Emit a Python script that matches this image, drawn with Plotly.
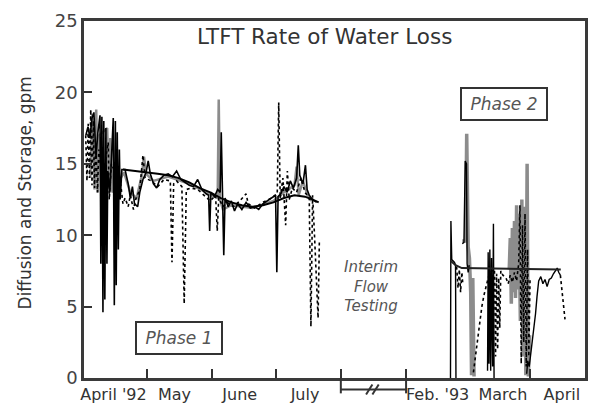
import plotly.graph_objects as go
from datetime import datetime, timedelta

# ---------------- data (days since phase start, gpm) ----------------
P1_START = datetime(1992, 4, 1)
P2_START = datetime(1993, 2, 1)

# Phase 1 - daily solid series
p1_solid_days = [0.9, 1.9, 2.8, 3.8, 4.7, 5.7, 6.6, 7.6, 8.0, 8.5, 9.0, 9.4, 9.9, 10.4, 10.9, 11.3,
                 12.3, 13.2, 13.9, 14.4, 14.9, 15.3, 15.8, 16.3, 16.8, 17.2, 18.0,
                 19.5, 21, 22, 23, 24, 25.5, 26.5, 28, 29.5, 30.5, 31.5, 33, 34.5, 36, 38, 40, 42, 44,
                 46, 48, 50, 52, 54, 56, 58, 59.2, 59.7, 60.3, 62, 63.5, 64.7, 65.2, 65.7, 66.4, 67.0,
                 68.5, 70, 71.5, 73, 75, 77, 79, 81, 83, 85, 87, 89, 91, 91.6, 92.2, 93.5, 95, 96.5,
                 98, 99.5, 101, 101.8, 102.5, 104, 105.2, 106, 107, 108.5, 110.5]
p1_solid_vals = [17.0, 17.6, 16.8, 18.2, 18.6, 15.5, 17.2, 18.4, 8.0, 18.3, 4.6, 18.0, 5.5, 17.5, 8.0, 14.5,
                 13.0, 15.5, 18.2, 5.1, 18.0, 6.5, 17.2, 9.0, 16.0, 12.5, 14.6,
                 14.6, 13.6, 12.6, 13.4, 12.2, 12.0, 13.0, 13.9, 14.4, 15.2, 14.3, 13.6, 13.3, 13.9, 14.2,
                 14.3, 14.1, 14.5, 13.9, 13.7, 13.5, 13.4, 13.9, 13.2, 12.9, 12.8, 10.3, 13.0, 12.7, 13.2,
                 13.0, 17.2, 12.8, 8.6, 12.6, 12.0, 12.4, 11.7, 12.2, 11.8, 12.3, 11.9, 12.0, 11.8, 12.2,
                 12.4, 12.6, 12.8, 7.4, 12.7, 12.9, 13.4, 13.0, 13.8, 13.3, 14.0, 16.3, 14.2, 13.6, 14.9,
                 13.2, 12.8, 12.5, 12.3]

# Phase 1 - dotted series
p1_dot_days = [0.8, 1.4, 2.0, 2.6, 3.2, 3.8, 4.4, 5.0, 5.6, 6.4, 7.0, 8.8, 11.5, 12.0, 13.0, 17.5,
               18.5, 19.5, 21.0, 22.0, 23.5, 24.5, 26.5, 28.0, 29.0, 32.0, 35.0, 38.0, 41.0, 41.8,
               42.6, 44.0, 46.5, 47.6, 48.6, 51.0, 54.0, 57.0, 60.0, 62.5, 63.3, 64.0, 66.0, 68.0,
               71.0, 74.0, 77.0, 78.0, 81.0, 85.0, 89.0, 91.8, 92.5, 93.2, 94.5, 95.8, 96.6, 97.5,
               99.0, 101.0, 103.0, 105.0, 107.0, 107.8, 108.6, 109.5, 110.5, 111.2, 111.8]
p1_dot_vals = [17.0, 13.8, 17.8, 14.0, 18.8, 13.5, 18.0, 13.3, 16.5, 13.0, 16.0, 13.8, 16.5, 12.5, 15.0, 13.5,
               12.2, 12.6, 12.0, 12.8, 11.8, 12.5, 13.2, 15.6, 14.0, 13.8, 13.4, 13.9, 13.8, 8.1,
               13.6, 13.8, 13.4, 5.2, 13.2, 13.3, 13.2, 12.8, 12.4, 12.8, 10.3, 12.6, 12.0, 12.3,
               12.0, 12.4, 12.9, 12.2, 11.9, 12.3, 12.6, 12.9, 19.3, 12.6, 14.0, 10.7, 14.5, 12.5,
               13.3, 13.0, 14.0, 13.0, 12.6, 3.6, 12.8, 10.0, 7.1, 4.2, 9.5]

# Phase 1 - grey series
p1_grey_days = [3.0, 4.0, 5.0, 5.8, 6.5, 7.3, 11.0, 11.8, 12.5, 13.5, 19.0, 22.0, 25.0, 27.5, 28.5,
                29.5, 33.0, 40.0, 50.0, 60.0, 63.5, 64.0, 64.6, 66.0, 70.0, 80.0, 90.0, 95.0, 100.0,
                101.0, 102.0, 104.0, 106.0, 108.0]
p1_grey_vals = [14.0, 18.5, 13.2, 18.8, 13.0, 17.0, 17.5, 13.2, 16.8, 13.0, 14.4, 13.0, 12.6, 14.2, 15.5,
                14.3, 13.8, 14.1, 13.6, 12.9, 12.6, 19.5, 12.5, 11.8, 12.1, 11.9, 12.4, 13.0, 13.5,
                14.8, 12.8, 13.8, 12.9, 12.4]

# Phase 1 - trend
p1_trend_days = [18.5, 25, 30, 35, 40, 45, 50, 55, 60, 65, 70, 75, 80, 85, 90, 95, 100, 105, 110, 111.5]
p1_trend_vals = [14.6, 14.5, 14.4, 14.3, 14.2, 14.0, 13.7, 13.3, 13.0, 12.6, 12.3, 12.1, 12.0, 12.1,
                 12.3, 12.6, 12.8, 12.7, 12.4, 12.3]

# Phase 2 - solid series (None = gap)
p2_solid_days = [21.1, 21.3, 21.7, 23.0, 23.5, 23.7, None,
                 26.7, 27.5, 28.1, 28.7, 29.0, 29.5, 30.0, None,
                 38.7, 39.0, 39.4, 39.8, 40.2, 40.6, 41.1, 41.5, 41.8, None,
                 57.3, 57.8, 58.5, 59.5, 60.5, 61.5, 62.2, 63.0, 64.0, 65.0, 66.0, 67.0, 68.0, 69.0,
                 70.0, 71.0, 71.8, 72.5, 73.3]
p2_solid_vals = [0.0, 11.0, 8.3, 8.1, 7.9, 0.0, None,
                 9.4, 9.5, 15.2, 15.0, 8.0, 7.4, 7.9, None,
                 0.5, 8.8, 1.0, 9.0, 0.5, 8.4, 0.8, 10.8, 0.0, None,
                 0.3, 1.2, 0.8, 2.0, 3.3, 4.5, 5.7, 6.8, 7.1, 6.6, 6.9, 6.4, 6.9, 7.0,
                 7.3, 7.5, 7.7, 7.4, 7.2]

# Phase 2 - dotted series
p2_dot_days = [24.0, 24.7, 25.3, 25.9, 26.5, 27.0, None,
               32.0, 33.0, 34.0, 35.0, 36.0, 37.0, 38.0, 39.0, 40.0, 42.0, 42.5, 43.0, 43.5, 44.0,
               44.5, 45.0, 46.0, 47.5, 48.5, 49.5, 50.5, 51.5, 52.5, 53.5, 54.1, 54.7, 55.3, 55.9,
               56.5, 57.1, 57.7, 58.3, 58.9, None,
               73.3, 74.0, 74.7, 75.5]
p2_dot_vals = [7.8, 6.3, 7.6, 6.0, 7.4, 6.5, None,
               0.4, 1.5, 2.8, 4.0, 5.0, 5.8, 6.5, 7.0, 7.4, 7.6, 1.5, 7.3, 2.0, 7.0,
               3.5, 7.5, 7.2, 7.0, 6.6, 7.2, 6.7, 7.4, 6.8, 8.0, 12.1, 1.0, 10.7, 2.5,
               11.5, 0.8, 9.0, 1.5, 7.0, None,
               7.2, 6.2, 5.0, 4.1]

# Phase 2 - grey series
p2_grey_days = [26.7, 28.3, 28.8, 29.5, 30.1, 30.7, 31.1, 31.7, 32.3, None,
                49.0, 49.5, 50.0, 50.5, 51.0, 51.5, 52.0, 52.5, 53.0, 53.5, 54.3, 55.0, 55.7, 56.3,
                56.9, 57.5, 58.1, 58.7]
p2_grey_vals = [9.6, 9.6, 17.1, 9.2, 8.4, 6.0, 0.2, 7.0, 0.1, None,
                7.6, 9.8, 5.2, 10.5, 6.0, 11.0, 5.6, 12.1, 6.2, 11.5, 4.0, 12.5, 1.5, 12.0,
                0.2, 15.0, 0.1, 3.0]

# Phase 2 - trend
p2_trend_days = [21.3, 23.5, 26.5, 73.5]
p2_trend_vals = [8.2, 7.9, 7.7, 7.6]

# axis labels
month_label_dates = ["1992-04-15", "1992-05-14", "1992-06-14", "1992-07-15",
                     "1993-02-16", "1993-03-19", "1993-04-16"]
month_labels = ["April '92", "May", "June", "July", "Feb. '93", "March", "April"]
tick_mark_dates = ["1992-05-01", "1992-06-01", "1992-07-01", "1993-01-01", "1993-02-01", "1993-04-01"]
y_ticks = [0, 5, 10, 15, 20, 25]


def to_dates(base, days):
    return [None if d is None else base + timedelta(days=d) for d in days]


FONT = "DejaVu Sans"
TXT = "#333333"
GREY = "#8c8c8c"

fig = go.Figure()

series = [
    (P1_START, p1_grey_days, p1_grey_vals, dict(color=GREY, width=2.5)),
    (P2_START, p2_grey_days, p2_grey_vals, dict(color=GREY, width=3.5)),
    (P1_START, p1_dot_days, p1_dot_vals, dict(color="black", width=1.6, dash="dot")),
    (P2_START, p2_dot_days, p2_dot_vals, dict(color="black", width=1.6, dash="dot")),
    (P1_START, p1_solid_days, p1_solid_vals, dict(color="black", width=1.6)),
    (P2_START, p2_solid_days, p2_solid_vals, dict(color="black", width=1.4)),
    (P1_START, p1_trend_days, p1_trend_vals, dict(color="black", width=2)),
    (P2_START, p2_trend_days, p2_trend_vals, dict(color="#222222", width=2)),
]
for base, d, v, line in series:
    fig.add_trace(go.Scatter(x=to_dates(base, d), y=v, mode="lines", line=line,
                             connectgaps=False, showlegend=False, hoverinfo="skip"))

fig.update_layout(
    width=591, height=407,
    margin=dict(l=84, r=3, t=21, b=25),
    paper_bgcolor="white", plot_bgcolor="white",
    font=dict(family=FONT, color=TXT),
    showlegend=False,
)

fig.update_xaxes(
    type="date",
    range=["1992-04-01", "1993-04-27"],
    rangebreaks=[dict(bounds=["1992-08-01", "1993-01-01"])],
    tickmode="array", tickvals=month_label_dates, ticktext=month_labels,
    ticks="", tickfont=dict(size=16, color=TXT, family=FONT),
    minor=dict(tickmode="array", tickvals=tick_mark_dates, ticks="inside",
               ticklen=9, tickwidth=2, tickcolor="#333333", showgrid=False),
    showgrid=False, zeroline=False,
    showline=True, mirror=True, linecolor="#3a3a3a", linewidth=2.5,
)
fig.update_yaxes(
    range=[0, 25], tickmode="array", tickvals=y_ticks,
    ticks="inside", ticklen=8, tickwidth=2, tickcolor="#333333",
    tickfont=dict(size=18, color="#444444", family=FONT),
    showgrid=False, zeroline=False,
    showline=True, mirror=True, linecolor="#3a3a3a", linewidth=2.5,
)

# title and y label
fig.add_annotation(text="LTFT Rate of Water Loss", xref="paper", yref="paper",
                   x=0.480, y=0.9557, xanchor="center", yanchor="middle", showarrow=False,
                   font=dict(size=21.5, color=TXT, family=FONT))
fig.add_annotation(text="Diffusion and Storage, gpm", xref="paper", yref="paper",
                   x=-0.117, y=0.518, xanchor="center", yanchor="middle",
                   showarrow=False, textangle=-90,
                   font=dict(size=17, color=TXT, family=FONT))

# phase boxes
for txt, px, py in [("Phase 1", 0.1895, 0.1122), ("Phase 2", 0.8383, 0.7687)]:
    fig.add_annotation(text="<i>" + txt + "</i>", xref="paper", yref="paper", x=px, y=py,
                       xanchor="center", yanchor="middle",
                       showarrow=False, width=84, height=30, borderpad=0,
                       bordercolor="#333333", borderwidth=2, bgcolor="white",
                       font=dict(size=17, color="#555555", family=FONT))

fig.add_annotation(text="<i>Interim</i><br><i>Flow</i><br><i>Testing</i>",
                   xref="paper", yref="paper", x=0.573, y=0.2576,
                   xanchor="center", yanchor="middle", showarrow=False,
                   font=dict(size=15, color="#555555", family=FONT))

# axis break marker below the gap
brk = dict(color="#333333", width=2)
fig.add_shape(type="line", xref="x", yref="paper", x0="1993-01-01", x1="1993-02-01",
              y0=-0.032, y1=-0.032, line=brk)
for xd in ["1993-01-01", "1993-02-01"]:
    fig.add_shape(type="line", xref="x", yref="paper", x0=xd, x1=xd,
                  y0=0, y1=-0.043, line=brk)
for a, b in [("1993-01-13", "1993-01-16"), ("1993-01-16", "1993-01-19")]:
    fig.add_shape(type="line", xref="x", yref="paper", x0=a, x1=b,
                  y0=-0.046, y1=-0.018, line=brk)

fig.write_html("out.html")
